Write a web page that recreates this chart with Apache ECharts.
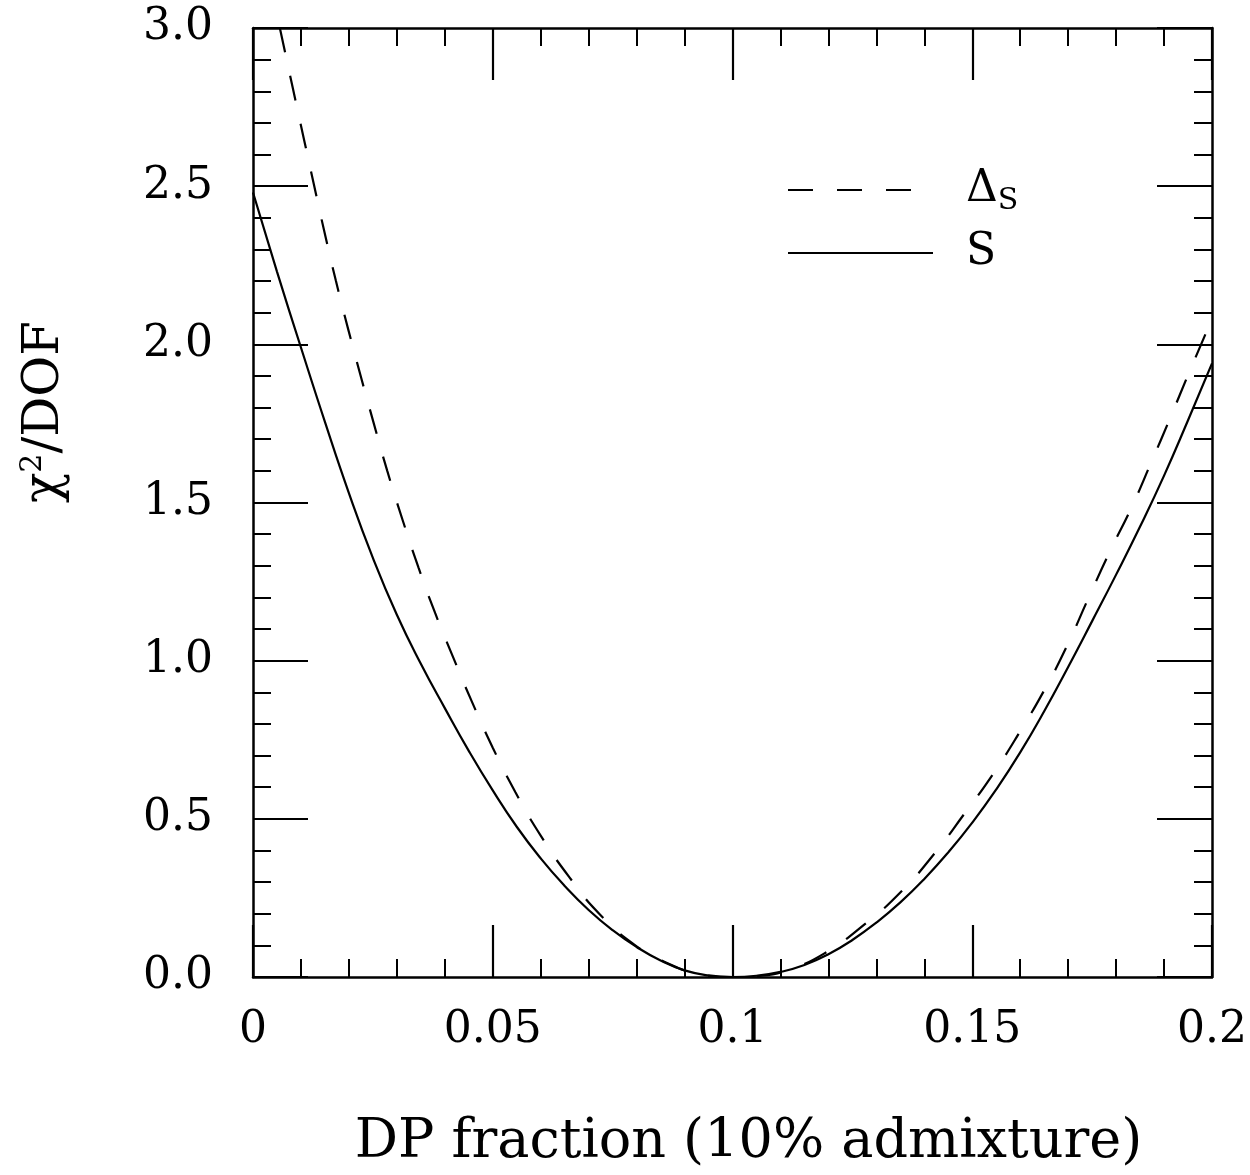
<!DOCTYPE html>
<html>
<head>
<meta charset="utf-8">
<script src="https://cdn.jsdelivr.net/npm/echarts@6/dist/echarts.min.js"></script>
<style>
  html, body { margin: 0; padding: 0; background: #fff; }
  #chart { width: 1250px; height: 1175px; }
</style>
</head>
<body>
<div id="chart"></div>
<script>
// ---- Data ----
const xTicks = [0, 0.05, 0.1, 0.15, 0.2];
const yTicks = [0.0, 0.5, 1.0, 1.5, 2.0, 2.5, 3.0];

// S (solid)
const sX = [0, 0.005, 0.01, 0.015, 0.02, 0.025, 0.03, 0.035, 0.04, 0.045, 0.05, 0.055, 0.06, 0.065, 0.07, 0.075, 0.08, 0.085, 0.09, 0.095,
            0.1, 0.105, 0.11, 0.115, 0.12, 0.125, 0.13, 0.135, 0.14, 0.145, 0.15, 0.155, 0.16, 0.165, 0.17, 0.175, 0.18, 0.185, 0.19, 0.195, 0.2];
const sY = [2.48, 2.23, 1.99, 1.755, 1.53, 1.325, 1.145, 0.99, 0.85, 0.715, 0.59, 0.475, 0.375, 0.288, 0.212, 0.148, 0.095, 0.052, 0.021, 0.005,
            0.0, 0.004, 0.016, 0.038, 0.072, 0.117, 0.172, 0.236, 0.31, 0.394, 0.488, 0.593, 0.71, 0.84, 0.98, 1.125, 1.272, 1.424, 1.585, 1.76, 1.94];

// Delta_S (dashed)
const dX = [0.0056, 0.0083, 0.0106, 0.0127, 0.0149, 0.0173, 0.0199, 0.0226, 0.0251, 0.028, 0.0313, 0.0345, 0.038, 0.0419, 0.0456, 0.05,
            0.0547, 0.06, 0.066, 0.0724, 0.08, 0.086, 0.092, 0.1, 0.106, 0.112, 0.119, 0.1276, 0.1353, 0.142, 0.1483, 0.1543, 0.16,
            0.1651, 0.1697, 0.1743, 0.1786, 0.1832, 0.1873, 0.1913, 0.1952, 0.2];
const dY = [3.0, 2.81, 2.65, 2.505, 2.355, 2.2, 2.045, 1.892, 1.755, 1.6, 1.44, 1.295, 1.15, 1.005, 0.872, 0.725,
            0.585, 0.447, 0.315, 0.197, 0.097, 0.047, 0.013, 0.0, 0.004, 0.025, 0.073, 0.167, 0.272, 0.388, 0.515, 0.641, 0.777,
            0.909, 1.045, 1.2, 1.342, 1.484, 1.626, 1.768, 1.91, 2.08];

const seriesNames = ['\u0394s', 'S'];
const xTitle = 'DP fraction (10% admixture)';

// ---- Chart ----
const FONT = 'DejaVu Serif';
const chart = echarts.init(document.getElementById('chart'), null, { renderer: 'canvas' });

function axisCommon(showLabel, pos, isX) {
  return {
    type: 'value',
    position: pos,
    min: isX ? xTicks[0] : yTicks[0],
    max: isX ? xTicks[xTicks.length - 1] : yTicks[yTicks.length - 1],
    interval: isX ? (xTicks[1] - xTicks[0]) : (yTicks[1] - yTicks[0]),
    axisLine: { show: true, onZero: false, lineStyle: { color: '#000', width: 2.5 } },
    axisTick: { show: true, inside: true, length: isX ? 52 : 55, lineStyle: { color: '#000', width: 2.2 } },
    minorTick: { show: true, splitNumber: 5, length: 18, lineStyle: { color: '#000', width: 2 } },
    splitLine: { show: false },
    minorSplitLine: { show: false },
    axisLabel: showLabel ? {
      show: true,
      color: '#000',
      fontFamily: FONT,
      fontSize: 44,
      margin: isX ? 32 : 40,
      formatter: isX ? (v => String(parseFloat(v.toFixed(3)))) : (v => v.toFixed(1))
    } : { show: false }
  };
}

const xBottom = axisCommon(true, 'bottom', true);
xBottom.name = xTitle;
xBottom.nameLocation = 'middle';
xBottom.nameGap = 139;
xBottom.nameTextStyle = { color: '#000', fontFamily: FONT, fontSize: 54, padding: [0, 0, 0, 32] };

const option = {
  animation: false,
  backgroundColor: '#fff',
  grid: { left: 253, right: 32, top: 28, bottom: 197, containLabel: false },
  xAxis: [xBottom, axisCommon(false, 'top', true)],
  yAxis: [axisCommon(true, 'left', false), axisCommon(false, 'right', false)],
  legend: {
    orient: 'vertical',
    left: 782,
    top: 159,
    itemWidth: 145,
    itemHeight: 20,
    itemGap: 15,
    data: seriesNames,
    itemStyle: { opacity: 0, color: 'rgba(0,0,0,0)', borderWidth: 0 },
    formatter: name => name === seriesNames[0] ? '{d|\u0394}{s|S}' : '{n|S}',
    textStyle: {
      color: '#000',
      padding: [0, 0, 0, 28],
      rich: {
        d: { fontFamily: FONT, fontSize: 44, lineHeight: 50, color: '#000' },
        s: { fontFamily: FONT, fontSize: 30, lineHeight: 50, color: '#000', padding: [22, 0, 0, 0] },
        n: { fontFamily: FONT, fontSize: 44, lineHeight: 50, color: '#000' }
      }
    }
  },
  graphic: [{
    type: 'text',
    x: 45,
    y: 412,
    rotation: Math.PI / 2,
    style: {
      text: '{a|\u03C7}{b|2}{a|/DOF}',
      align: 'center',
      verticalAlign: 'middle',
      fill: '#000',
      rich: {
        a: { fontFamily: FONT, fontSize: 50, lineHeight: 58, fill: '#000' },
        b: { fontFamily: FONT, fontSize: 30, lineHeight: 58, fill: '#000', padding: [0, 0, 24, 0] }
      }
    }
  }],
  series: [
    {
      name: seriesNames[0],
      type: 'line',
      xAxisIndex: 0, yAxisIndex: 0,
      data: dX.map((x, i) => [x, dY[i]]),
      smooth: 0.5,
      symbol: 'none',
      clip: true,
      itemStyle: { color: '#000' },
      lineStyle: { color: '#000', width: 2.2, type: [25, 24] }
    },
    {
      name: seriesNames[1],
      type: 'line',
      xAxisIndex: 0, yAxisIndex: 0,
      data: sX.map((x, i) => [x, sY[i]]),
      smooth: 0.5,
      symbol: 'none',
      clip: true,
      itemStyle: { color: '#000' },
      lineStyle: { color: '#000', width: 2.2, type: 'solid' }
    }
  ]
};
chart.setOption(option);
</script>
</body>
</html>
